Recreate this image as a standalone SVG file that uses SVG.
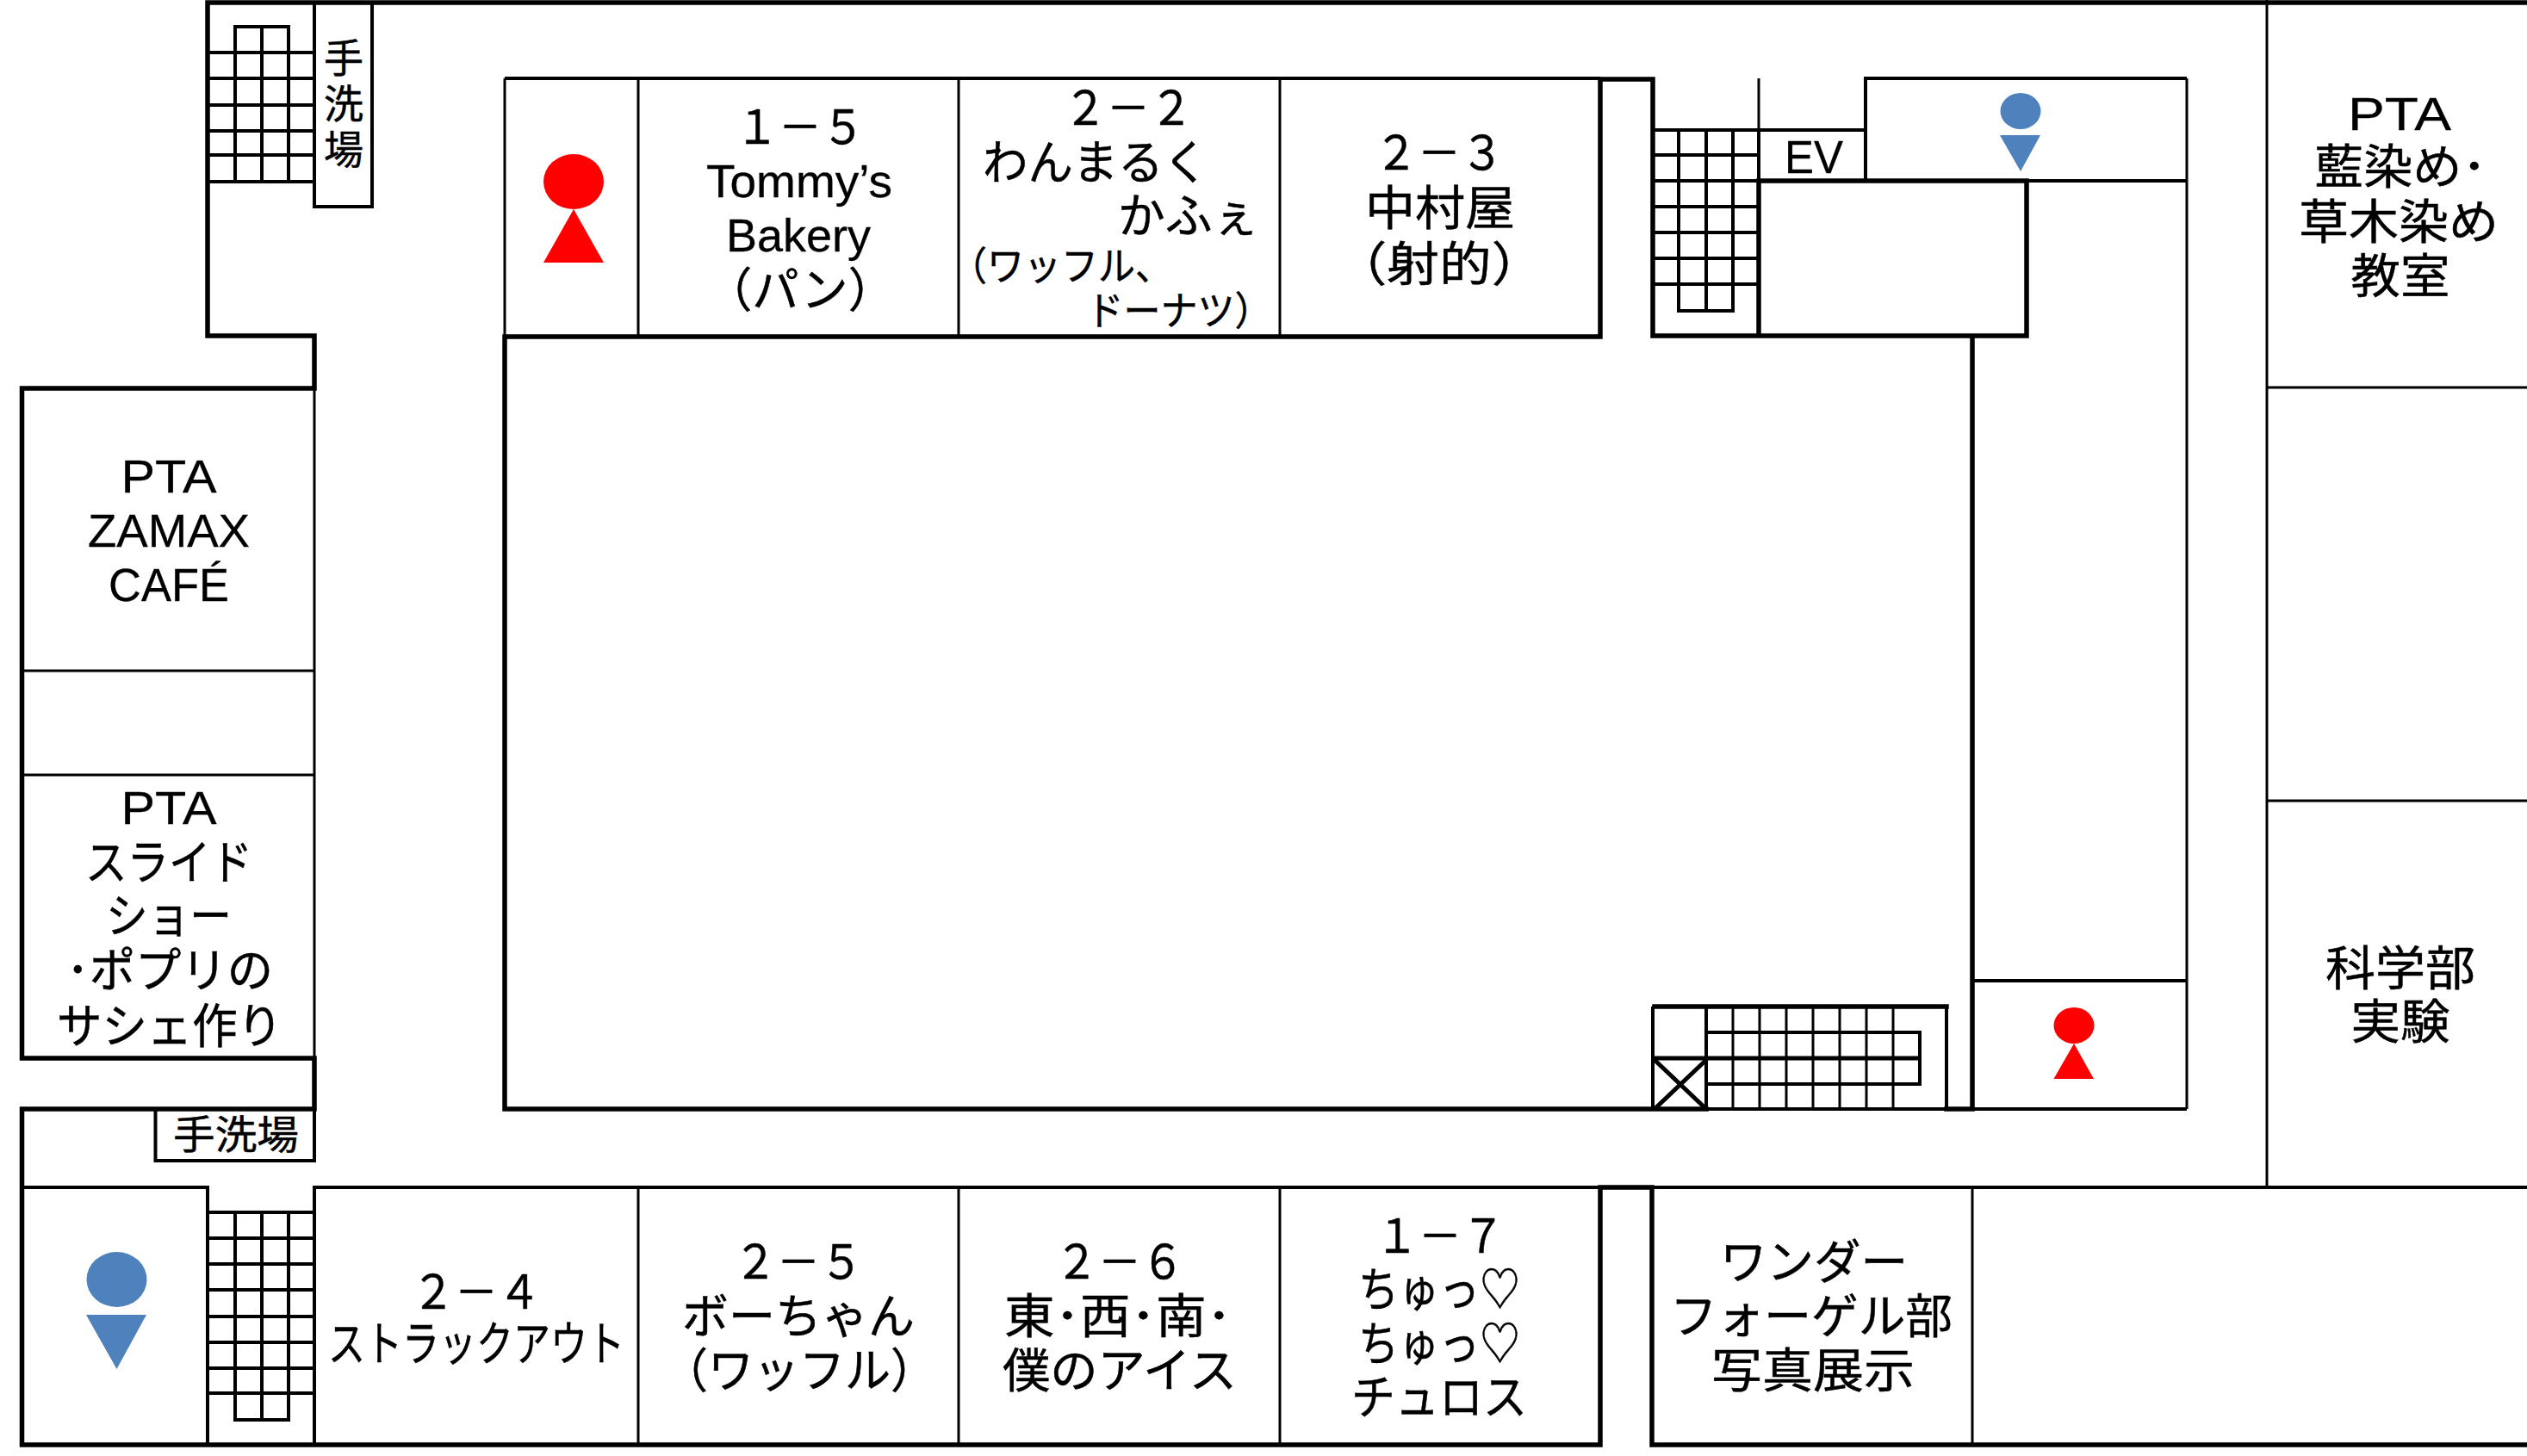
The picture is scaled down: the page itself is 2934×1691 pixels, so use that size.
<svg xmlns="http://www.w3.org/2000/svg" width="2934" height="1691" viewBox="0 0 2934 1691">
<style>
.w{fill:none;stroke:#000;stroke-width:5.500;stroke-linecap:square;stroke-linejoin:miter}
.m{fill:none;stroke:#000;stroke-width:4}
.t{fill:none;stroke:#000;stroke-width:3}
text{font-family:"Noto Sans CJK JP","Liberation Sans",sans-serif;font-size:55px;fill:#000;stroke:#000;stroke-width:.5px;text-anchor:middle}
.l{font-family:"Liberation Sans",sans-serif;font-size:54px;stroke-width:.3px}
.s{font-size:46px}
.r{fill:#f00}
.b{fill:#4f81bd}
</style>
<rect width="2934" height="1691" fill="#fff"/>
<g id="walls">
<path class="w" d="M241,3H2934M241,3V390H365V451H25.5V1229H365V1288H25.5V1678H1858V1379H1918V1678H2934"/>
<path class="w" d="M586,391V1288H1981M586,391H1858V92H1919V390H2353V210H2042V390M2290,390V1288M2260,1288H2290M1921,1169H2260"/>
</g>
<g id="partitions">
<path class="m" d="M586,91H1858M25,1379H241V1678M365,1678V1379H1858M1918,1379H2934M2166,210V91H2539M2353,210H2539M2290,1139H2539M2290,1288H2539M1981,1288H2260"/>
<path class="t" d="M586,91V390M741,91V390M1113,91V390M1486,91V390M365,451V1229M25,779H365M25,900H365M2042,91V151M2539,91V1288M2632,0V1379M2632,450H2934M2632,930H2934M741,1379V1678M1113,1379V1678M1486,1379V1678M2290,1379V1678"/>
</g>
<g id="stairs-nw">
<path class="m" d="M241,61H365M241,91H365M241,122H365M241,152H365M241,180H365M241,211H365M273,211V31H335V211M304,31V211"/>
<path class="m" d="M365,3V240H432V3"/>
</g>
<g id="stairs-ne">
<path class="m" d="M1919,151H2166M1919,180H2042M1919,240H2042M1919,270H2042M1919,300H2042M1919,330H2042M1949,151V361H2012V151M1981,151V361M2042,151V210"/>
<path class="m" d="M1919,210H2042"/>
</g>
<g id="stairs-sw">
<path class="m" d="M241,1408H365M241,1438H365M241,1468H365M241,1498H365M241,1529H365M241,1559H365M241,1589H365M241,1618H365M273,1408V1649H335V1408M304,1408V1649"/>
<path class="m" d="M180.500,1288V1348H365V1288"/>
</g>
<g id="stairs-se">
<path class="m" d="M1919,1169V1288M2260,1169V1288M1981,1169V1288M1981,1199H2229V1259H1981"/>
<path class="t" d="M2012,1169V1288M2043,1169V1288M2074,1169V1288M2105,1169V1288M2136,1169V1288M2167,1169V1288M2198,1169V1288"/>
<path class="w" d="M1921,1229H2229" style="stroke-width:5;stroke-linecap:butt"/>
<path class="w" d="M1921,1231L1981,1288M1981,1231L1921,1288" style="stroke-width:5;stroke-linecap:butt"/>
</g>
<g id="restroom-red-1"><ellipse class="r" cx="666" cy="211" rx="35" ry="32"/><polygon class="r" points="666,243 701,305 631,305"/></g>
<g id="restroom-red-2"><ellipse class="r" cx="2408" cy="1191" rx="23.500" ry="21"/><polygon class="r" points="2408,1212 2431,1253 2384.500,1253"/></g>
<g id="restroom-blue-1"><ellipse class="b" cx="2346" cy="129" rx="23.500" ry="21"/><polygon class="b" points="2322,157 2369,157 2346,199"/></g>
<g id="restroom-blue-2"><ellipse class="b" cx="135.500" cy="1486" rx="35" ry="32"/><polygon class="b" points="100,1527 170,1527 135.500,1590"/></g>
<g id="labels">
<g id="wash-v"><text class="s" x="399" y="84">手</text><text class="s" x="399" y="137">洗</text><text class="s" x="399" y="190">場</text></g>
<g id="wash-h"><text class="s" x="274" y="1334" textLength="146" lengthAdjust="spacingAndGlyphs">手洗場</text></g>
<g id="ev"><text class="l" x="2106" y="201" textLength="68" lengthAdjust="spacingAndGlyphs">EV</text></g>
<g id="room-15">
<text x="929" y="167" textLength="150" lengthAdjust="spacingAndGlyphs">１－５</text>
<text class="l" x="928" y="229" textLength="216" lengthAdjust="spacingAndGlyphs">Tommy’s</text>
<text class="l" x="927" y="292" textLength="168" lengthAdjust="spacingAndGlyphs">Bakery</text>
<text x="929" y="356" textLength="220" lengthAdjust="spacingAndGlyphs">（パン）</text>
</g>
<g id="room-22">
<text x="1310" y="145" textLength="150" lengthAdjust="spacingAndGlyphs">２－２</text>
<text x="1272" y="208" textLength="262" lengthAdjust="spacingAndGlyphs">わんまるく</text>
<text x="1380" y="270" textLength="164" lengthAdjust="spacingAndGlyphs">かふぇ</text>
<text class="s" x="1232" y="325" textLength="258" lengthAdjust="spacingAndGlyphs">（ワッフル、</text>
<text class="s" x="1369" y="377" textLength="215" lengthAdjust="spacingAndGlyphs">ドーナツ）</text>
</g>
<g id="room-23">
<text x="1671" y="197" textLength="150" lengthAdjust="spacingAndGlyphs">２－３</text>
<text x="1672" y="261" textLength="174" lengthAdjust="spacingAndGlyphs">中村屋</text>
<text x="1671" y="326" textLength="243" lengthAdjust="spacingAndGlyphs">（射的）</text>
</g>
<g id="room-pta-dye">
<text class="l" x="2786" y="151" textLength="120" lengthAdjust="spacingAndGlyphs">PTA</text>
<text x="2787" y="213" textLength="200" lengthAdjust="spacingAndGlyphs">藍染め･</text>
<text x="2785" y="277" textLength="232" lengthAdjust="spacingAndGlyphs">草木染め</text>
<text x="2787" y="340" textLength="115" lengthAdjust="spacingAndGlyphs">教室</text>
</g>
<g id="room-science">
<text x="2787" y="1144" textLength="174" lengthAdjust="spacingAndGlyphs">科学部</text>
<text x="2787" y="1206" textLength="115" lengthAdjust="spacingAndGlyphs">実験</text>
</g>
<g id="room-pta-cafe">
<text class="l" x="196" y="572" textLength="111" lengthAdjust="spacingAndGlyphs">PTA</text>
<text class="l" x="196" y="635" textLength="188" lengthAdjust="spacingAndGlyphs">ZAMAX</text>
<text class="l" x="196" y="698" textLength="140" lengthAdjust="spacingAndGlyphs">CAFÉ</text>
</g>
<g id="room-pta-slide">
<text class="l" x="196" y="957" textLength="111" lengthAdjust="spacingAndGlyphs">PTA</text>
<text x="196" y="1021" textLength="194" lengthAdjust="spacingAndGlyphs">スライド</text>
<text x="196" y="1083" textLength="146" lengthAdjust="spacingAndGlyphs">ショー</text>
<text x="197" y="1146" textLength="240" lengthAdjust="spacingAndGlyphs">･ポプリの</text>
<text x="197" y="1211" textLength="262" lengthAdjust="spacingAndGlyphs">サシェ作り</text>
</g>
<g id="room-24">
<text x="553" y="1520" textLength="150" lengthAdjust="spacingAndGlyphs">２－４</text>
<text x="553" y="1580" textLength="344" lengthAdjust="spacingAndGlyphs">ストラックアウト</text>
</g>
<g id="room-25">
<text x="927" y="1485" textLength="150" lengthAdjust="spacingAndGlyphs">２－５</text>
<text x="927" y="1548" textLength="270" lengthAdjust="spacingAndGlyphs">ボーちゃん</text>
<text x="928" y="1611" textLength="318" lengthAdjust="spacingAndGlyphs">（ワッフル）</text>
</g>
<g id="room-26">
<text x="1300" y="1485" textLength="150" lengthAdjust="spacingAndGlyphs">２－６</text>
<text x="1298" y="1548" textLength="264" lengthAdjust="spacingAndGlyphs">東･西･南･</text>
<text x="1300" y="1611" textLength="272" lengthAdjust="spacingAndGlyphs">僕のアイス</text>
</g>
<g id="room-17">
<text x="1672" y="1455" textLength="150" lengthAdjust="spacingAndGlyphs">１－７</text>
<text x="1671" y="1517" textLength="188" lengthAdjust="spacingAndGlyphs">ちゅっ♡</text>
<text x="1671" y="1580" textLength="188" lengthAdjust="spacingAndGlyphs">ちゅっ♡</text>
<text x="1671" y="1642" textLength="204" lengthAdjust="spacingAndGlyphs">チュロス</text>
</g>
<g id="room-wv">
<text x="2106" y="1485" textLength="218" lengthAdjust="spacingAndGlyphs">ワンダー</text>
<text x="2103" y="1548" textLength="328" lengthAdjust="spacingAndGlyphs">フォーゲル部</text>
<text x="2105" y="1611" textLength="236" lengthAdjust="spacingAndGlyphs">写真展示</text>
</g>
</g>
</svg>
